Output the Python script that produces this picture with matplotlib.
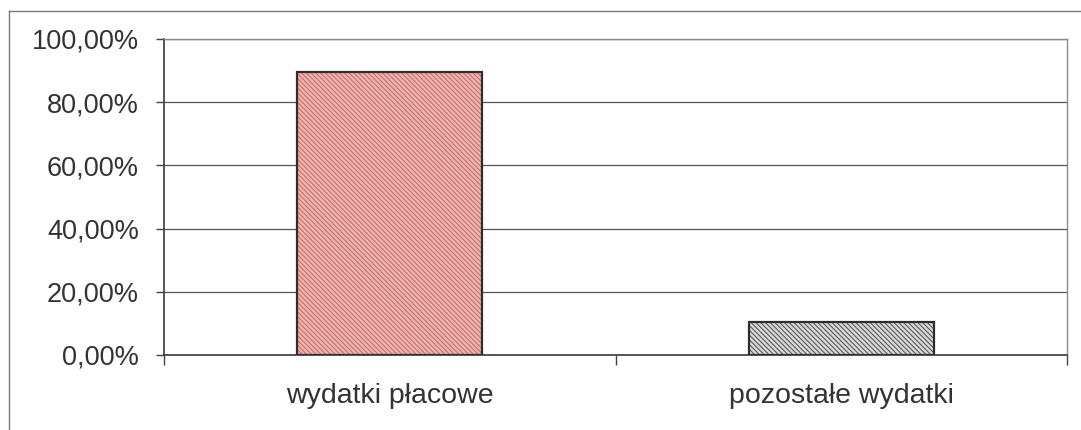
import matplotlib
matplotlib.use("Agg")
import matplotlib.pyplot as plt
from matplotlib.lines import Line2D
from matplotlib.ticker import FixedLocator, FuncFormatter

CATEGORIES = ["wydatki płacowe", "pozostałe wydatki"]
VALUES = [89.7, 10.3]
Y_TICKS = [0, 20, 40, 60, 80, 100]

FILL_COLORS = ["#ecb4b2", "#dadada"]
HATCH_COLORS = ["#cc6f6c", "#5a5a5a"]

plt.rcParams["font.family"] = ["Liberation Sans", "DejaVu Sans"]
plt.rcParams["hatch.linewidth"] = 0.8

fig = plt.figure(figsize=(10.81, 4.30), dpi=100)
ax = fig.add_axes([164 / 1081, 1 - 355 / 430, (1067 - 164) / 1081, (355 - 39) / 430])

x = list(range(len(CATEGORIES)))

# hatched fill first, then the dark outline on top
for i in x:
    ax.bar(i, VALUES[i], width=0.41, color=FILL_COLORS[i], edgecolor=HATCH_COLORS[i],
           hatch="\\" * 7, linewidth=0, zorder=3)
ax.bar(x, VALUES, width=0.41, fill=False, edgecolor="#2e2e2e", linewidth=1.6, zorder=4)

ax.set_xlim(-0.5, len(CATEGORIES) - 0.5)
ax.set_ylim(0, 100)

ax.set_yticks(Y_TICKS)
ax.yaxis.set_major_formatter(FuncFormatter(lambda v, p: f"{v:.2f}%".replace(".", ",")))
ax.tick_params(axis="y", length=6, width=1, color="#444444", pad=12,
               labelsize=19.5, labelcolor="#333333")

ax.set_xticks(x)
ax.set_xticklabels(CATEGORIES)
ax.tick_params(axis="x", which="major", length=0, pad=20, labelsize=20.5, labelcolor="#333333")
ax.xaxis.set_minor_locator(FixedLocator([-0.5, 0.5, 1.5]))
ax.tick_params(axis="x", which="minor", length=7, width=1, color="#444444")

ax.grid(axis="y", color="#555555", linewidth=0.9, zorder=1)
ax.set_axisbelow(True)

for side in ["left", "bottom"]:
    ax.spines[side].set_color("#3a3a3a")
    ax.spines[side].set_linewidth(1.2)
for side in ["top", "right"]:
    ax.spines[side].set_color("#8a8a8a")
    ax.spines[side].set_linewidth(1.0)

# outer chart frame (runs off the right and bottom edges)
fig.add_artist(Line2D([9 / 1081, 9 / 1081], [-0.1, 1 - 11 / 430], color="#7a7a7a", linewidth=1.0))
fig.add_artist(Line2D([9 / 1081, 1.1], [1 - 11 / 430, 1 - 11 / 430], color="#7a7a7a", linewidth=1.0))

fig.savefig("out.png", dpi=100)
